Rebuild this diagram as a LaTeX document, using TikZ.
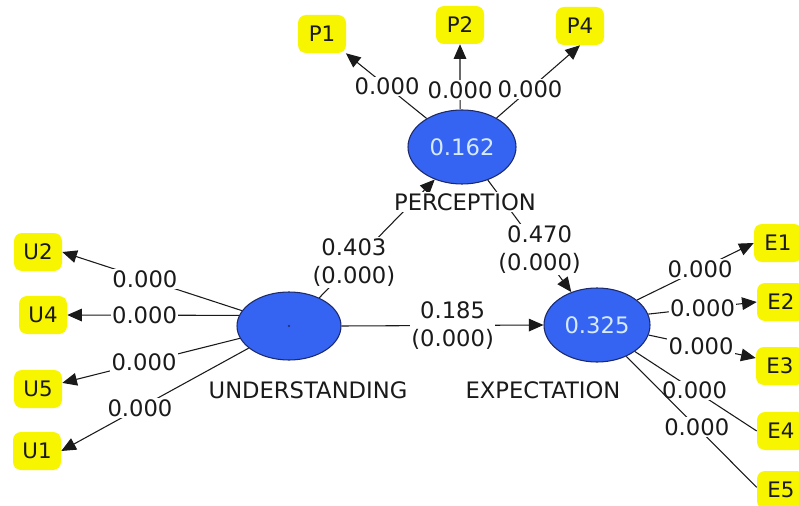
\documentclass[tikz,border=0pt]{standalone}
\usepackage{fontspec}
\setmainfont{DejaVu Sans}
\usetikzlibrary{shapes.geometric,arrows.meta,backgrounds}
\definecolor{lvblue}{HTML}{3563F2}
\definecolor{lvedge}{HTML}{1C2A6B}
\definecolor{lvtext}{HTML}{D6EAFF}
\definecolor{indyel}{HTML}{F7F500}
\definecolor{ink}{HTML}{1A1A1A}
\tikzset{
  lv/.style={ellipse, fill=lvblue, draw=lvedge, line width=0.8pt, text=lvtext,
    inner sep=0pt, font=\fontsize{17}{20}\selectfont},
  ind/.style={rectangle, rounded corners=6pt, fill=indyel, text=ink,
    minimum width=36pt, minimum height=28.5pt, inner sep=0pt,
    font=\fontsize{16}{19}\selectfont},
  lvname/.style={fill=white, text=ink, inner sep=1pt, font=\fontsize{17}{20}\selectfont},
  lab/.style={fill=white, text=ink, inner sep=1pt, align=center,
    font=\fontsize{17}{21}\selectfont},
  conn/.style={draw=ink, line width=0.8pt},
  arr/.style={conn, -{Triangle[length=11pt,width=9.5pt]}}
}
\begin{document}
\begin{tikzpicture}[x=0.75pt,y=-0.75pt]
\useasboundingbox (0,0) rectangle (799,506);
% latent variables
\node[lv, minimum width=81pt, minimum height=55.5pt] (PER) at (462,147) {0.162};
\node[lv, minimum width=78pt, minimum height=51pt] (UND) at (289,326) {};
\fill[lvedge] (UND.center) circle (0.9pt);
\node[lv, minimum width=79.5pt, minimum height=55.5pt] (EXP) at (597,325) {0.325};
% names
\node[lvname] (PERn) at (465,202) {PERCEPTION};
\node[lvname] (UNDn) at (308,390) {UNDERSTANDING};
\node[lvname] (EXPn) at (543,390) {EXPECTATION};
% indicators
\node[ind] (P1) at (322,34) {P1};
\node[ind] (P2) at (460,25) {P2};
\node[ind] (P4) at (580,26) {P4};
\node[ind] (U2) at (38,252) {U2};
\node[ind] (U4) at (43,315) {U4};
\node[ind] (U5) at (38,389) {U5};
\node[ind] (U1) at (37,451) {U1};
\node[ind] (E1) at (778,243) {E1};
\node[ind] (E2) at (781,302) {E2};
\node[ind] (E3) at (780,366) {E3};
\node[ind] (E4) at (781,431) {E4};
\node[ind] (E5) at (781,490) {E5};
\begin{pgfonlayer}{background}
\fill[white] (0,0) rectangle (799,506);
% outer loadings
\draw[arr] (PER) -- node[lab, pos=0.49] {0.000} (P1);
\draw[arr] (PER.93) -- node[lab, pos=0.3] {0.000} (P2.south);
\draw[arr] (PER.40) -- node[lab, pos=0.4] {0.000} (P4.south);
\draw[arr] (UND) -- node[lab, pos=0.54] {0.000} (U2.east);
\draw[arr] (UND.168) -- node[lab, pos=0.55] {0.000} (U4.east);
\draw[arr] (UND) -- node[lab, pos=0.54] {0.000} (U5);
\draw[arr] (UND) -- node[lab, pos=0.58] {0.000} (U1.east);
\draw[arr] (EXP.32) -- node[lab, pos=0.54] {0.000} (E1.west);
\draw[arr] (EXP.12) -- node[lab, pos=0.5] {0.000} (E2.west);
\draw[arr] (EXP.-11) -- node[lab, pos=0.49] {0.000} ([yshift=6pt]E3.west);
\draw[conn] (EXP.-35) -- node[lab, pos=0.49] {0.000} (E4.west);
\draw[conn] (EXP.-47) -- node[lab, pos=0.54] {0.000} ([yshift=2pt]E5.west);
% inner paths
\draw[arr] (UND.43) -- node[lab, pos=0.3] {0.403\\(0.000)} (PER.230);
\draw[arr] (PER.-52) -- node[lab, pos=0.62] {0.470\\(0.000)} (EXP.128);
\draw[arr] (UND.east) -- node[lab, pos=0.55] {0.185\\(0.000)} (EXP.west);
\end{pgfonlayer}
\end{tikzpicture}
\end{document}
